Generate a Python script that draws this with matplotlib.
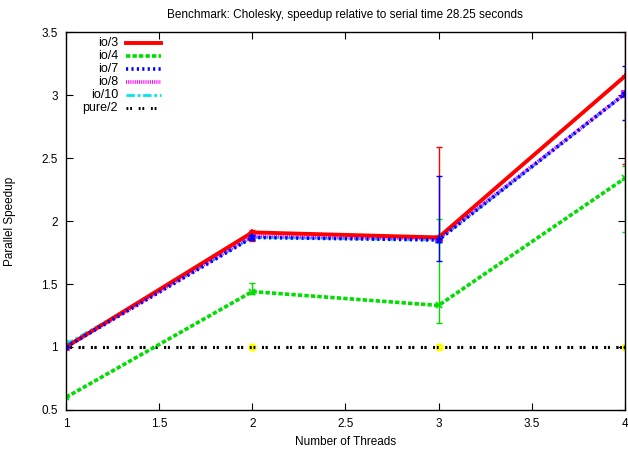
import matplotlib

matplotlib.use("Agg")
import matplotlib.pyplot as plt
import numpy as np

plt.rcParams["font.family"] = ["Liberation Sans", "DejaVu Sans"]
plt.rcParams["font.size"] = 8.5

# donnees
threads = [1, 2, 3, 4]
io3 = [1.00, 1.91, 1.87, 3.15]
io3_lo = [1.00, 1.84, 1.85, 2.45]
io3_hi = [1.00, 1.93, 2.59, 3.60]
io4 = [0.60, 1.44, 1.33, 2.34]
io4_lo = [0.60, 1.42, 1.19, 1.91]
io4_hi = [0.60, 1.51, 2.02, 2.44]
io7 = [1.00, 1.87, 1.85, 3.01]
io7_lo = [1.00, 1.85, 1.68, 2.80]
io7_hi = [1.00, 1.89, 2.36, 3.23]
io8 = [1.00, 1.88, 1.86, 3.01]
io10 = [1.02, 1.87, 1.85, 3.01]
pure2 = [1.00, 1.00, 1.00, 1.00]

labels = ["io/3", "io/4", "io/7", "io/8", "io/10", "pure/2"]
colors = ["#ff0000", "#00dd00", "#0000ff", "#ff00ff", "#00e5ee", "#000000"]

fig = plt.figure(figsize=(6.28, 4.53), dpi=100)
ax = fig.add_axes([0.105, 0.095, 0.89, 0.834])

styles = [
    dict(ls="-", lw=2.8),
    dict(ls=(0, (1.2, 0.6)), lw=2.6),
    dict(ls=(0, (0.6, 0.9)), lw=2.6),
    dict(ls=(0, (0.3, 0.3)), lw=2.6),
    dict(ls=(0, (3, 1, 1, 1)), lw=2.0),
    dict(ls=(0, (0.6, 0.6, 0.6, 2.2)), lw=2.2),
]
markers = ["+", "x", "*", "s", "s", "o"]
series = [io3, io4, io7, io8, io10, pure2]
bars = {0: (io3_lo, io3_hi), 1: (io4_lo, io4_hi), 2: (io7_lo, io7_hi)}
zs = {4: 2.2, 3: 2.4, 5: 2.1, 1: 3.1, 2: 3.3, 0: 2.9}

for i in [4, 3, 5, 1, 2, 0]:
    y = np.array(series[i])
    if i in bars:
        lo, hi = bars[i]
        ax.errorbar(threads, y, yerr=[y - np.array(lo), np.array(hi) - y],
                    fmt="none", ecolor=colors[i], elinewidth=1.0,
                    capsize=2.5, capthick=1.0, zorder=zs[i] - 0.05,
                    linestyle=styles[i]["ls"] if i != 0 else "-")
    if i == 5:
        ax.plot(threads, y, color=colors[i], marker="o", ms=5, mfc="#ffff00",
                mec="#ffff00", zorder=zs[i], **styles[i])
        ax.plot(threads[-1:], y[-1:], "o", color="#000000", ms=4, mec="#ffff00",
                zorder=zs[i] + 0.01)
        ax.plot(threads, y, color=colors[i], marker="", zorder=zs[i] + 0.02,
                **styles[i])
    else:
        mfc = colors[i] if i == 4 else "none"
        ax.plot(threads, y, color=colors[i], marker=markers[i], ms=5,
                mew=1.2, mfc=mfc, zorder=zs[i], **styles[i])

ax.set_xlim(1, 4)
ax.set_ylim(0.5, 3.5)
ax.set_xticks(np.arange(1, 4.01, 0.5))
ax.set_xticklabels(["1", "1.5", "2", "2.5", "3", "3.5", "4"])
ax.set_yticks(np.arange(0.5, 3.51, 0.5))
ax.set_yticklabels(["0.5", "1", "1.5", "2", "2.5", "3", "3.5"])
ax.tick_params(direction="in", top=True, right=True, length=5, width=0.8,
               pad=6)
for s in ax.spines.values():
    s.set_linewidth(1.0)
    s.set_zorder(5)

ax.set_xlabel("Number of Threads", labelpad=4)
ax.set_ylabel("Parallel Speedup", labelpad=18)
ax.set_title("Benchmark: Cholesky, speedup relative to serial time 28.25 seconds",
             fontsize=8.5, pad=10)

# legende a la gnuplot : texte aligne a droite, echantillon a droite
y0 = 0.971
dy = 0.0345
for k in range(6):
    yy = y0 - k * dy
    ax.text(0.093, yy, labels[k], transform=ax.transAxes, ha="right",
            va="center", fontsize=9)
    ax.plot([0.108, 0.17], [yy, yy], transform=ax.transAxes,
            color=colors[k], clip_on=False, **styles[k])

fig.savefig("out.png", dpi=100)
